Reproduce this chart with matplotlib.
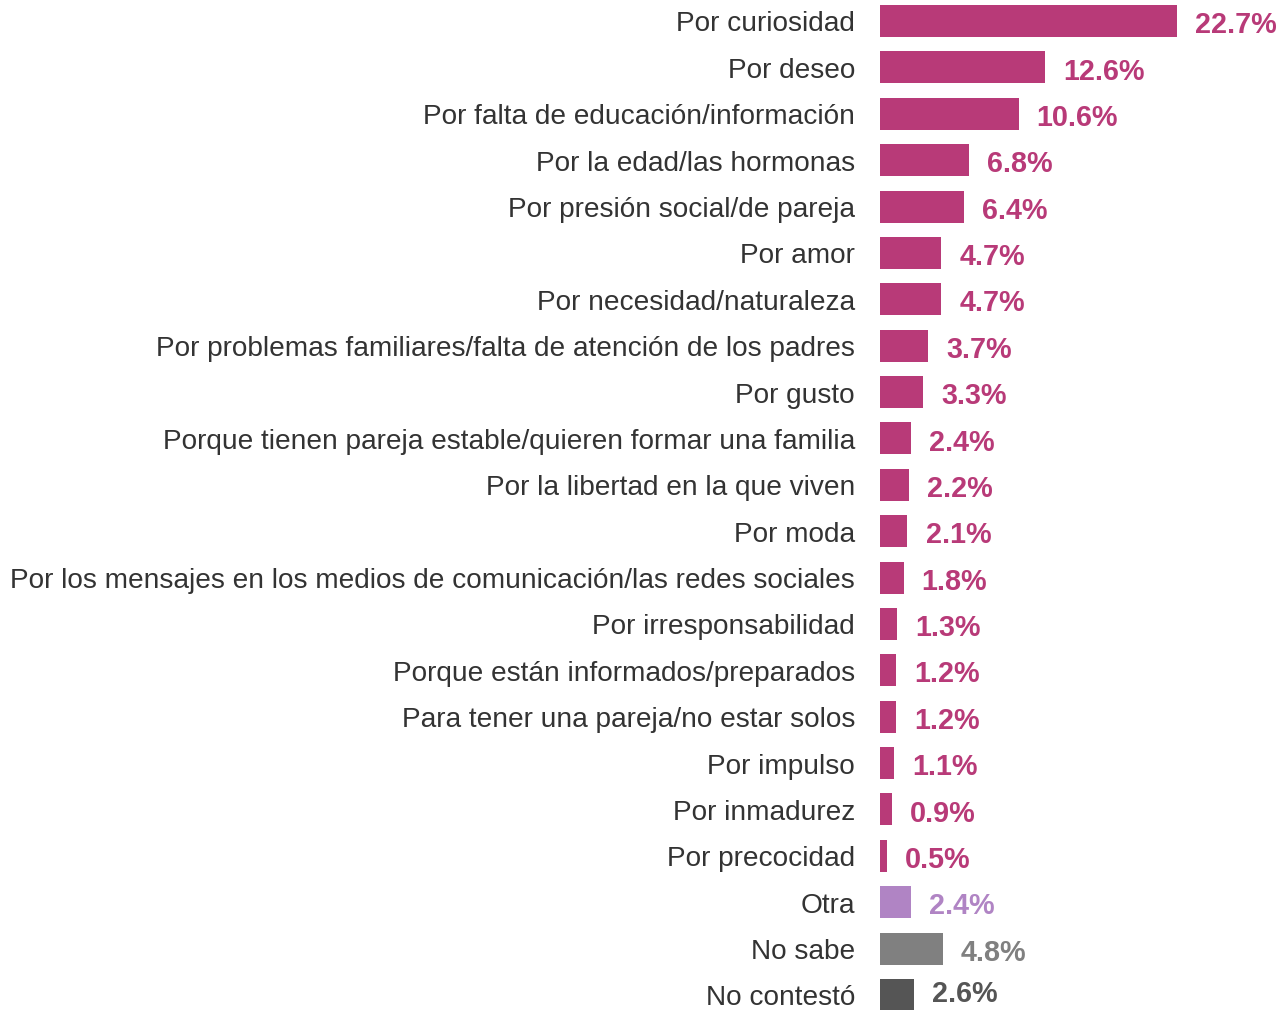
import matplotlib.pyplot as plt

categories = [
    'Por curiosidad',
    'Por deseo',
    'Por falta de educación/información',
    'Por la edad/las hormonas',
    'Por presión social/de pareja',
    'Por amor',
    'Por necesidad/naturaleza',
    'Por problemas familiares/falta de atención de los padres',
    'Por gusto',
    'Porque tienen pareja estable/quieren formar una familia',
    'Por la libertad en la que viven',
    'Por moda',
    'Por los mensajes en los medios de comunicación/las redes sociales',
    'Por irresponsabilidad',
    'Porque están informados/preparados',
    'Para tener una pareja/no estar solos',
    'Por impulso',
    'Por inmadurez',
    'Por precocidad',
    'Otra',
    'No sabe',
    'No contestó',
]
values = [22.7, 12.6, 10.6, 6.8, 6.4, 4.7, 4.7, 3.7, 3.3, 2.4, 2.2, 2.1,
          1.8, 1.3, 1.2, 1.2, 1.1, 0.9, 0.5, 2.4, 4.8, 2.6]

pink = '#b83a78'
colors = [pink] * 19 + ['#b084c4', '#808080', '#555555']

plt.rcParams['font.family'] = ['Liberation Sans', 'DejaVu Sans']

W, H = 1283, 1010
fig = plt.figure(figsize=(W / 100, H / 100), dpi=100)
ax = fig.add_axes([880 / W, 0, 1 - 880 / W, 1])

px_per_unit = (1177 - 880) / 22.7
step = (995 - 21) / 21
ys = list(range(len(categories)))

ax.barh(ys, values, height=0.69, color=colors)
ax.set_xlim(0, (W - 880) / px_per_unit)
ax.set_ylim(21 + (H - 995) / step, -21 / step)
ax.axis('off')

last = len(categories) - 1
for y, v, c, name in zip(ys, values, colors, categories):
    # the last value label sits a little higher so it stays inside the frame
    dy = 1 if y == last else -3
    ax.annotate(f'{v}%', (v, y), xytext=(13, dy), textcoords='offset points',
                ha='left', va='center', fontsize=20.7, fontweight='bold', color=c)
    ax.annotate(name, (0, y), xytext=(-18, -2.5), textcoords='offset points',
                ha='right', va='center', fontsize=20.2, color='#333333',
                annotation_clip=False)

fig.savefig('out.png', dpi=100)
